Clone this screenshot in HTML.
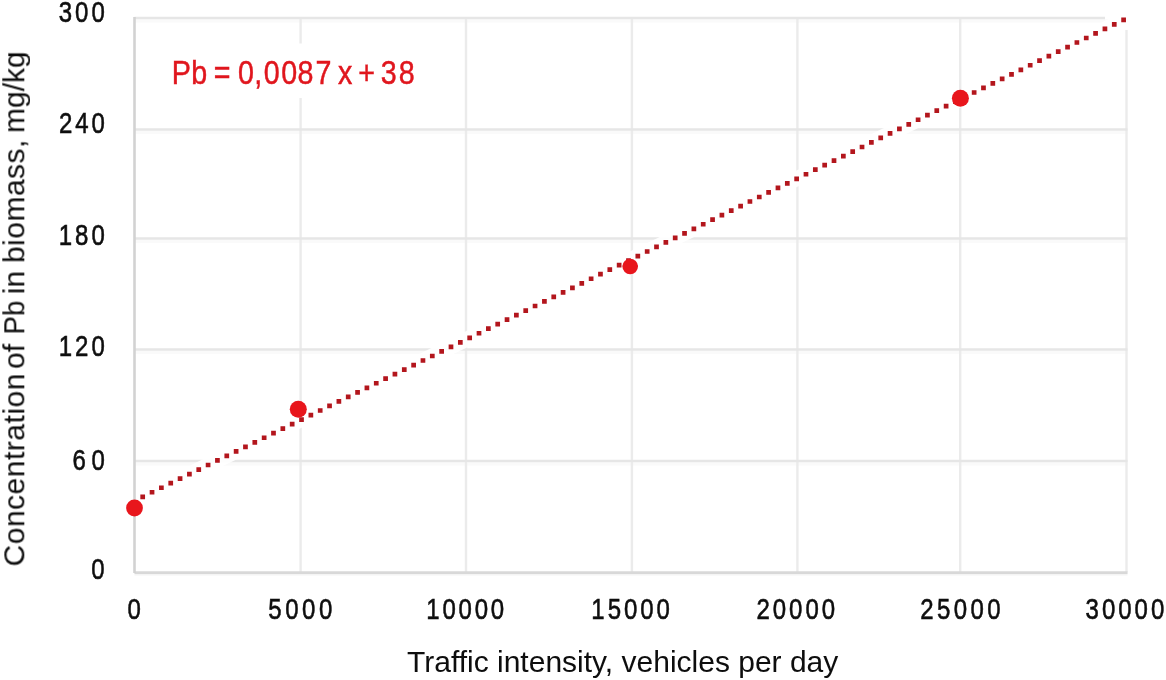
<!DOCTYPE html>
<html><head><meta charset="utf-8">
<style>
html,body{margin:0;padding:0;background:#fff;width:1166px;height:680px;overflow:hidden}
svg{display:block;will-change:transform}
text{font-family:"Liberation Sans",sans-serif}
</style></head><body>
<svg width="1166" height="680" viewBox="0 0 1166 680">
<defs><filter id="soft" x="0" y="0" width="100%" height="100%" filterUnits="userSpaceOnUse"><feGaussianBlur stdDeviation="0.55"/></filter></defs>
<rect width="1166" height="680" fill="#fff"/>
<g filter="url(#soft)">
<g stroke="#fafafa" stroke-width="3" fill="none"><line x1="134.5" y1="21" x2="1127.5" y2="21"/><line x1="134.5" y1="132.5" x2="1127.5" y2="132.5"/><line x1="134.5" y1="241.4" x2="1127.5" y2="241.4"/><line x1="134.5" y1="352.4" x2="1127.5" y2="352.4"/><line x1="134.5" y1="464.1" x2="1127.5" y2="464.1"/></g>
<g stroke="#ebebeb" stroke-width="2.4" fill="none"><line x1="300.6" y1="18" x2="300.6" y2="572.6"/><line x1="466" y1="18" x2="466" y2="572.6"/><line x1="631.9" y1="18" x2="631.9" y2="572.6"/><line x1="797.4" y1="18" x2="797.4" y2="572.6"/><line x1="960.2" y1="18" x2="960.2" y2="572.6"/><line x1="1126.5" y1="30" x2="1126.5" y2="572.6"/></g>
<g stroke="#e6e6e6" stroke-width="2.5" fill="none"><line x1="134.5" y1="18" x2="1105" y2="18"/><line x1="134.5" y1="129.5" x2="1127.5" y2="129.5"/><line x1="134.5" y1="238.4" x2="1127.5" y2="238.4"/><line x1="134.5" y1="349.4" x2="1127.5" y2="349.4"/><line x1="134.5" y1="461.1" x2="1127.5" y2="461.1"/></g>
<line x1="134.5" y1="574.5" x2="1127.5" y2="574.5" stroke="#f4f4f4" stroke-width="2"/>
<line x1="134.5" y1="572.6" x2="1127.5" y2="572.6" stroke="#d8d8d8" stroke-width="2.6"/>
<line x1="134.5" y1="17" x2="134.5" y2="573" stroke="#d2d2d2" stroke-width="2.6"/>
<rect x="160" y="43.5" width="270" height="54.5" fill="#fff"/>
<line x1="140" y1="498.13" x2="1126.5" y2="18.4" stroke="#fff" stroke-opacity="0.92" stroke-width="15"/>
<path fill="#b3121c" d="M140.35 494.46h4.7v4.7h-4.7zM149.69 489.92h4.7v4.7h-4.7zM159.03 485.38h4.7v4.7h-4.7zM168.38 480.83h4.7v4.7h-4.7zM177.72 476.29h4.7v4.7h-4.7zM187.06 471.75h4.7v4.7h-4.7zM196.40 467.20h4.7v4.7h-4.7zM205.74 462.66h4.7v4.7h-4.7zM215.09 458.12h4.7v4.7h-4.7zM224.43 453.58h4.7v4.7h-4.7zM233.77 449.03h4.7v4.7h-4.7zM243.11 444.49h4.7v4.7h-4.7zM252.45 439.95h4.7v4.7h-4.7zM261.80 435.40h4.7v4.7h-4.7zM271.14 430.86h4.7v4.7h-4.7zM280.48 426.32h4.7v4.7h-4.7zM289.82 421.78h4.7v4.7h-4.7zM299.16 417.23h4.7v4.7h-4.7zM308.51 412.69h4.7v4.7h-4.7zM317.85 408.15h4.7v4.7h-4.7zM327.19 403.60h4.7v4.7h-4.7zM336.53 399.06h4.7v4.7h-4.7zM345.87 394.52h4.7v4.7h-4.7zM355.22 389.98h4.7v4.7h-4.7zM364.56 385.43h4.7v4.7h-4.7zM373.90 380.89h4.7v4.7h-4.7zM383.24 376.35h4.7v4.7h-4.7zM392.58 371.80h4.7v4.7h-4.7zM401.93 367.26h4.7v4.7h-4.7zM411.27 362.72h4.7v4.7h-4.7zM420.61 358.17h4.7v4.7h-4.7zM429.95 353.63h4.7v4.7h-4.7zM439.29 349.09h4.7v4.7h-4.7zM448.64 344.55h4.7v4.7h-4.7zM457.98 340.00h4.7v4.7h-4.7zM467.32 335.46h4.7v4.7h-4.7zM476.66 330.92h4.7v4.7h-4.7zM486.00 326.37h4.7v4.7h-4.7zM495.35 321.83h4.7v4.7h-4.7zM504.69 317.29h4.7v4.7h-4.7zM514.03 312.75h4.7v4.7h-4.7zM523.37 308.20h4.7v4.7h-4.7zM532.71 303.66h4.7v4.7h-4.7zM542.06 299.12h4.7v4.7h-4.7zM551.40 294.57h4.7v4.7h-4.7zM560.74 290.03h4.7v4.7h-4.7zM570.08 285.49h4.7v4.7h-4.7zM579.42 280.94h4.7v4.7h-4.7zM588.77 276.40h4.7v4.7h-4.7zM598.11 271.86h4.7v4.7h-4.7zM607.45 267.32h4.7v4.7h-4.7zM616.79 262.77h4.7v4.7h-4.7zM626.13 258.23h4.7v4.7h-4.7zM635.48 253.69h4.7v4.7h-4.7zM644.82 249.14h4.7v4.7h-4.7zM654.16 244.60h4.7v4.7h-4.7zM663.50 240.06h4.7v4.7h-4.7zM672.84 235.52h4.7v4.7h-4.7zM682.19 230.97h4.7v4.7h-4.7zM691.53 226.43h4.7v4.7h-4.7zM700.87 221.89h4.7v4.7h-4.7zM710.21 217.34h4.7v4.7h-4.7zM719.55 212.80h4.7v4.7h-4.7zM728.90 208.26h4.7v4.7h-4.7zM738.24 203.72h4.7v4.7h-4.7zM747.58 199.17h4.7v4.7h-4.7zM756.92 194.63h4.7v4.7h-4.7zM766.26 190.09h4.7v4.7h-4.7zM775.61 185.54h4.7v4.7h-4.7zM784.95 181.00h4.7v4.7h-4.7zM794.29 176.46h4.7v4.7h-4.7zM803.63 171.91h4.7v4.7h-4.7zM812.97 167.37h4.7v4.7h-4.7zM822.32 162.83h4.7v4.7h-4.7zM831.66 158.29h4.7v4.7h-4.7zM841.00 153.74h4.7v4.7h-4.7zM850.34 149.20h4.7v4.7h-4.7zM859.68 144.66h4.7v4.7h-4.7zM869.03 140.11h4.7v4.7h-4.7zM878.37 135.57h4.7v4.7h-4.7zM887.71 131.03h4.7v4.7h-4.7zM897.05 126.49h4.7v4.7h-4.7zM906.39 121.94h4.7v4.7h-4.7zM915.74 117.40h4.7v4.7h-4.7zM925.08 112.86h4.7v4.7h-4.7zM934.42 108.31h4.7v4.7h-4.7zM943.76 103.77h4.7v4.7h-4.7zM953.10 99.23h4.7v4.7h-4.7zM962.45 94.69h4.7v4.7h-4.7zM971.79 90.14h4.7v4.7h-4.7zM981.13 85.60h4.7v4.7h-4.7zM990.47 81.06h4.7v4.7h-4.7zM999.81 76.51h4.7v4.7h-4.7zM1009.16 71.97h4.7v4.7h-4.7zM1018.50 67.43h4.7v4.7h-4.7zM1027.84 62.88h4.7v4.7h-4.7zM1037.18 58.34h4.7v4.7h-4.7zM1046.52 53.80h4.7v4.7h-4.7zM1055.87 49.26h4.7v4.7h-4.7zM1065.21 44.71h4.7v4.7h-4.7zM1074.55 40.17h4.7v4.7h-4.7zM1083.89 35.63h4.7v4.7h-4.7zM1093.23 31.08h4.7v4.7h-4.7zM1102.58 26.54h4.7v4.7h-4.7zM1111.92 22.00h4.7v4.7h-4.7zM1121.26 17.46h4.7v4.7h-4.7z"/>
<g fill="#e8141f"><circle cx="134.5" cy="508" r="8.4"/><circle cx="298.3" cy="409.2" r="8.5"/><circle cx="630.2" cy="266.5" r="7.8"/><circle cx="960.4" cy="98.3" r="8.5"/></g>
<g><text transform="scale(0.8,1)" x="73.35 93.91 114.47" y="21.8" font-size="30" fill="#0c0c0c" stroke="#0c0c0c" stroke-width="0.6">300</text>
<text transform="scale(0.8,1)" x="73.85 94.16 114.47" y="133.2" font-size="30" fill="#0c0c0c" stroke="#0c0c0c" stroke-width="0.6">240</text>
<text transform="scale(0.8,1)" x="73.35 93.91 114.47" y="244.8" font-size="30" fill="#0c0c0c" stroke="#0c0c0c" stroke-width="0.6">180</text>
<text transform="scale(0.8,1)" x="73.35 93.91 114.47" y="355.8" font-size="30" fill="#0c0c0c" stroke="#0c0c0c" stroke-width="0.6">120</text>
<text transform="scale(0.8,1)" x="90.72 114.47" y="469.7" font-size="30" fill="#0c0c0c" stroke="#0c0c0c" stroke-width="0.6">60</text>
<text transform="scale(0.8,1)" x="113.97" y="579" font-size="30" fill="#0c0c0c" stroke="#0c0c0c" stroke-width="0.6">0</text>
<text transform="scale(0.8,1)" x="159.53" y="619.2" font-size="30" fill="#0c0c0c" stroke="#0c0c0c" stroke-width="0.6">0</text>
<text transform="scale(0.8,1)" x="335.47 356.55 377.64 398.72" y="619.2" font-size="30" fill="#0c0c0c" stroke="#0c0c0c" stroke-width="0.6">5000</text>
<text transform="scale(0.8,1)" x="532.97 553.1 573.22 593.35 613.47" y="619.2" font-size="30" fill="#0c0c0c" stroke="#0c0c0c" stroke-width="0.6">10000</text>
<text transform="scale(0.8,1)" x="739.22 759.6 779.97 800.35 820.72" y="619.2" font-size="30" fill="#0c0c0c" stroke="#0c0c0c" stroke-width="0.6">15000</text>
<text transform="scale(0.8,1)" x="945.72 966.06 986.41 1006.75 1027.1" y="619.2" font-size="30" fill="#0c0c0c" stroke="#0c0c0c" stroke-width="0.6">20000</text>
<text transform="scale(0.8,1)" x="1150.22 1171.22 1192.22 1213.22 1234.22" y="619.2" font-size="30" fill="#0c0c0c" stroke="#0c0c0c" stroke-width="0.6">25000</text>
<text transform="scale(0.8,1)" x="1356.97 1377.41 1397.85 1418.28 1438.72" y="619.2" font-size="30" fill="#0c0c0c" stroke="#0c0c0c" stroke-width="0.6">30000</text></g>
<text x="407" y="671.5" font-size="30" fill="#0c0c0c">Traffic intensity, vehicles per day</text>
<text transform="translate(24.3,566.5) rotate(-90)" font-size="30" fill="#0c0c0c"><tspan x="0" textLength="193" lengthAdjust="spacing">Concentration</tspan><tspan x="197.6">of</tspan><tspan x="232.1" textLength="33.7" lengthAdjust="spacingAndGlyphs">Pb</tspan><tspan x="272.3">in</tspan><tspan x="303.4" textLength="123.5" lengthAdjust="spacing">biomass,</tspan><tspan x="433.5">mg/kg</tspan></text>
<text transform="scale(0.843,1)" x="203.76 226.94 253.6 282.36 301.62 312.97 333.61 352.94 374.28 401.04 425.07 451.68 473.11" y="84" font-size="34" fill="#e0161f" stroke="#e0161f" stroke-width="0.5">Pb=0,0087x+38</text>
</g>
</svg>
</body></html>
